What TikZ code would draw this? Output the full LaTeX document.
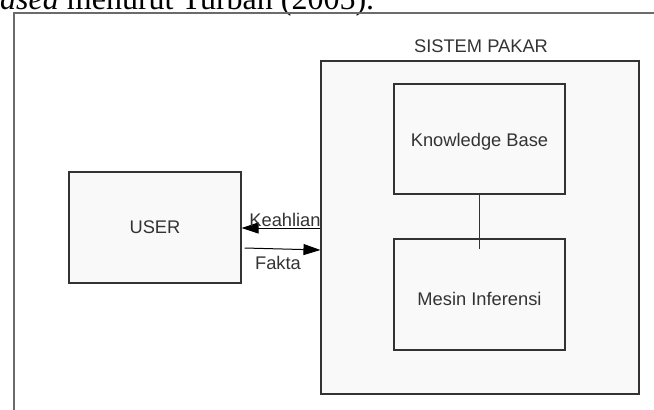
\documentclass[tikz,border=0pt]{standalone}
\usepackage{fontspec}
\setmainfont{Liberation Sans}
\newfontfamily\timesfont{Liberation Serif}
\usetikzlibrary{arrows.meta}
\definecolor{garis}{HTML}{333333}
\definecolor{bingkai}{HTML}{6B6B6B}
\definecolor{isi}{HTML}{F9F9F9}
\tikzset{
  kotak/.style={draw=garis, line width=1.1pt, fill=isi, inner sep=0pt},
  teks/.style={text=garis, font=\fontsize{18.3}{21}\selectfont, inner sep=0pt},
  panah/.style={draw=black, line width=1pt, -{Triangle[length=17pt,width=11pt]}}
}
\begin{document}
\begin{tikzpicture}[x=1pt,y=-1pt]
	\useasboundingbox (0,0) rectangle (654,410);
	\clip (0,0) rectangle (654,410);
	\node[anchor=base west, inner sep=0pt, font=\timesfont\fontsize{32}{36}\selectfont] (kutipan) at (-16,9) {\textit{based} menurut Turban (2005).};
	\draw[draw=bingkai, line width=1.4pt] (14,420) -- (14,13) -- (670,13);
	% kotak-kotak
	\node[kotak, minimum width=172pt, minimum height=111pt] (user) at (155,227.5) {};
	\node[teks] at (user.center) {USER};
	\node[kotak, minimum width=318pt, minimum height=333pt] (pakar) at (480,227.5) {};
	\node[teks] (judul) at (481,46) {SISTEM PAKAR};
	\node[kotak, minimum width=171pt, minimum height=110pt] (kb) at (479.5,139) {};
	\node[teks] at ([yshift=-3pt]kb.center) {Knowledge Base};
	\node[kotak, minimum width=171pt, minimum height=111pt] (mesin) at (479.5,294.5) {};
	\node[teks] at ([yshift=-4pt]mesin.center) {Mesin Inferensi};
	\draw[draw=garis, line width=1pt] (kb.south) -- ++(0,54);
	% panah
	\draw[panah] (pakar.west |- 0,228) -- (user.east |- 0,228);
	\node[teks, anchor=base] (keahlian) at (285,226.5) {Keahlian};
	\draw[panah] ([xshift=3pt]user.east |- 0,248) -- (pakar.west |- 0,250);
	\node[teks, anchor=base] (fakta) at (278,269) {Fakta};
\end{tikzpicture}
\end{document}
